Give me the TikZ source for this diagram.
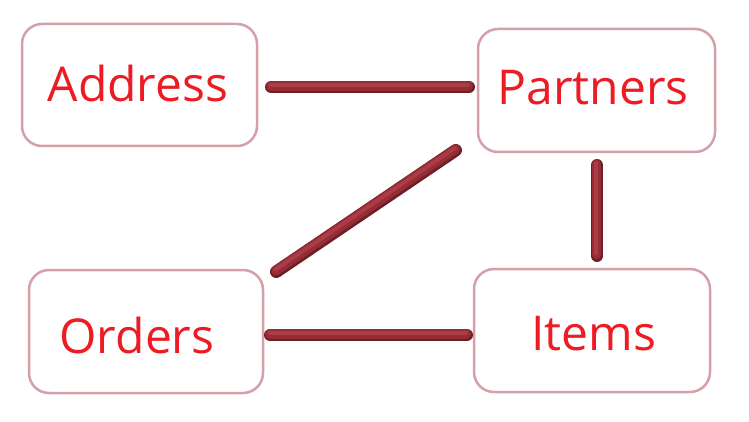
\documentclass[tikz,border=0pt]{standalone}
\usepackage{fontspec}
\setmainfont{Open Sans}
\usetikzlibrary{calc}
\definecolor{boxline}{HTML}{D6A0A9}
\definecolor{txtred}{HTML}{ED1C24}
\definecolor{pipedark}{HTML}{6E1F26}
\definecolor{pipemid}{HTML}{962C35}
\definecolor{pipelight}{HTML}{AA3C46}
\tikzset{
  x=1pt, y=1pt,
  entity/.style={draw=boxline, line width=2.5pt, rounded corners=20pt, fill=white,
    minimum width=#1, minimum height=123pt, inner sep=0pt},
  label/.style={text=txtred, anchor=base, font=\fontsize{48}{50}\selectfont, inner sep=0pt},
  pipebase/.style={draw=pipedark, line width=12.5pt, line cap=round},
  pipemidst/.style={draw=pipemid, line width=9.5pt, line cap=round, transform canvas={shift={(-0.4pt,1.2pt)}}},
  pipetop/.style={draw=pipelight, line width=4pt, line cap=round, transform canvas={shift={(-0.8pt,2.2pt)}}}
}
\newcommand{\pipeline}[2]{%
  \draw[pipebase] #1 -- #2;
  \draw[pipemidst] #1 -- #2;
  \draw[pipetop] #1 -- #2;
}
\begin{document}
\begin{tikzpicture}
\useasboundingbox (0,0) rectangle (749,421);
\fill[white] (0,0) rectangle (749,421);
\node[entity=235pt, minimum height=122pt] (Address) at (139.5,336) {};
\node[entity=237pt] (Partners) at (596.5,330.5) {};
\node[entity=234pt] (Orders) at (146,89.5) {};
\node[entity=236pt] (Items) at (592,90.5) {};
\node[label] (tAddress) at (138,319) {Address};
\node[label] (tPartners) at (593,316) {Partners};
\node[label] (tOrders) at (137,68) {Orders};
\node[label] (tItems) at (594,71) {Items};
\pipeline{($(Address.east)+(13,-2)$)}{($(Partners.west)+(-8,3.5)$)}
\pipeline{($(Orders.north east)+(12,-3)$)}{($(Partners.south west)+(-21,3)$)}
\pipeline{($(Partners.south)+(0.5,-12)$)}{($(Items.north)+(5,12)$)}
\pipeline{($(Orders.east)+(6,-3.5)$)}{($(Items.west)+(-6,-4.5)$)}
\end{tikzpicture}
\end{document}
